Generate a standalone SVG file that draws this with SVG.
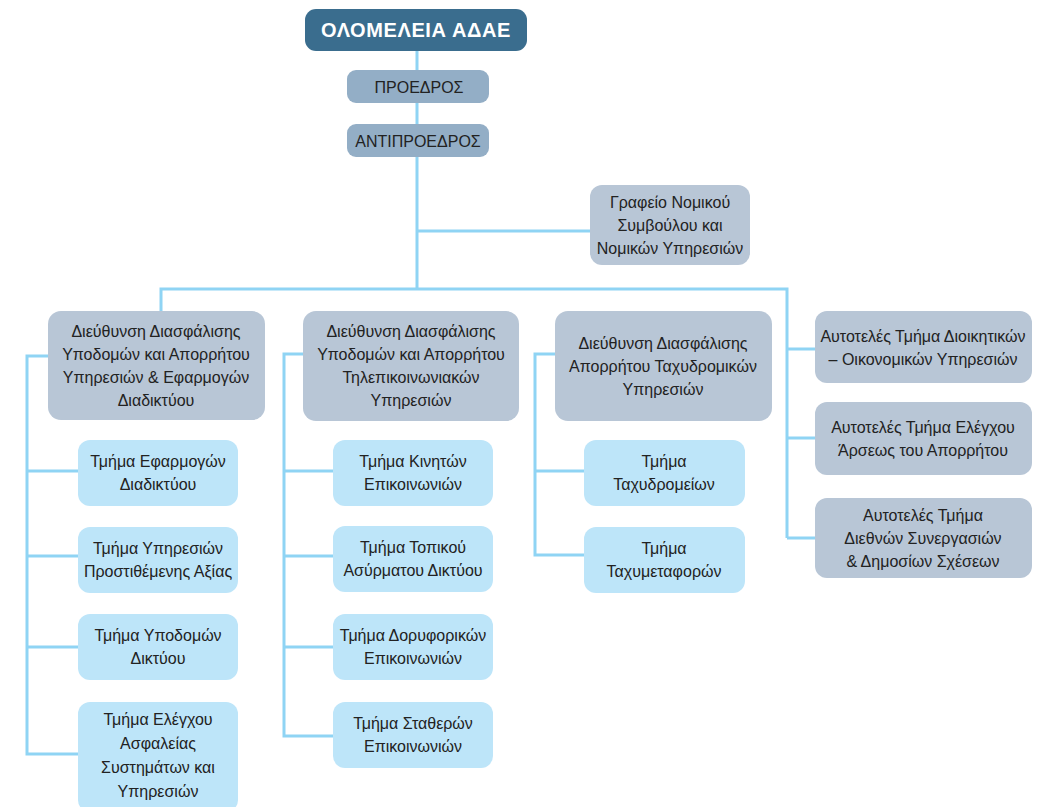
<svg xmlns="http://www.w3.org/2000/svg" width="1048" height="807" viewBox="0 0 1048 807">
<style>
.ln{fill:none;stroke:#8fd4f4;stroke-width:3}
.top{fill:#3a6d8e}
.lead{fill:#93aec6}
.dept{fill:#b8c6d6}
.sub{fill:#bde5f9}
text{font-family:"Liberation Sans",Arial,sans-serif;font-size:16px;fill:#222;text-anchor:middle;dominant-baseline:central}
.tt{font-size:20px;font-weight:bold;fill:#fff;letter-spacing:0.6px}
.lt{font-size:16px}
</style>
<rect width="1048" height="807" fill="#fff"/>
<g id="connectors">
<path class="ln" d="M417 51V289M417 231H590M161 311V289H787V538"/>
<path class="ln" d="M787 349H815M787 438H815M787 538H815"/>
<path class="ln" d="M48 356H27V754H78M27 471H78M27 556H78M27 647H78"/>
<path class="ln" d="M303 354H284V736H333M284 471H333M284 556H333M284 647H333"/>
<path class="ln" d="M555 354H535V555H584M535 471H584"/>
</g>
<g id="n-olomeleia"><rect class="top" x="305" y="9" width="222" height="42" rx="11"/><text class="tt" x="416" y="30">ΟΛΟΜΕΛΕΙΑ ΑΔΑΕ</text></g>
<g id="n-proedros"><rect class="lead" x="347" y="70" width="142" height="33" rx="9"/><text class="lt" x="419" y="87">ΠΡΟΕΔΡΟΣ</text></g>
<g id="n-antiproedros"><rect class="lead" x="347" y="124" width="142" height="33" rx="9"/><text class="lt" x="418" y="141">ΑΝΤΙΠΡΟΕΔΡΟΣ</text></g>
<g id="n-nomikou"><rect class="dept" x="590" y="185" width="160" height="80" rx="12"/><text x="670" y="202">Γραφείο Νομικού</text><text x="670" y="225">Συμβούλου και</text><text x="670" y="248">Νομικών Υπηρεσιών</text></g>
<g id="n-dir1"><rect class="dept" x="48" y="311" width="217" height="109" rx="13"/><text x="156" y="331">Διεύθυνση Διασφάλισης</text><text x="156" y="354">Υποδομών και Απορρήτου</text><text x="156" y="377">Υπηρεσιών &amp; Εφαρμογών</text><text x="156" y="400">Διαδικτύου</text></g>
<g id="n-dir2"><rect class="dept" x="303" y="311" width="216" height="110" rx="13"/><text x="411" y="331">Διεύθυνση Διασφάλισης</text><text x="411" y="354">Υποδομών και Απορρήτου</text><text x="411" y="377">Τηλεπικοινωνιακών</text><text x="411" y="400">Υπηρεσιών</text></g>
<g id="n-dir3"><rect class="dept" x="555" y="311" width="217" height="110" rx="13"/><text x="663" y="343">Διεύθυνση Διασφάλισης</text><text x="663" y="366">Απορρήτου Ταχυδρομικών</text><text x="663" y="389">Υπηρεσιών</text></g>
<g id="n-auto1"><rect class="dept" x="815" y="311" width="217" height="72" rx="12"/><text x="923" y="336">Αυτοτελές Τμήμα Διοικητικών</text><text x="923" y="359">– Οικονομικών Υπηρεσιών</text></g>
<g id="n-auto2"><rect class="dept" x="815" y="402" width="217" height="73" rx="12"/><text x="923" y="427">Αυτοτελές Τμήμα Ελέγχου</text><text x="923" y="450">Άρσεως του Απορρήτου</text></g>
<g id="n-auto3"><rect class="dept" x="815" y="498" width="217" height="80" rx="12"/><text x="923" y="515">Αυτοτελές Τμήμα</text><text x="923" y="538">Διεθνών Συνεργασιών</text><text x="923" y="561">&amp; Δημοσίων Σχέσεων</text></g>
<g id="n-c1a"><rect class="sub" x="78" y="440" width="160" height="66" rx="12"/><text x="158" y="461">Τμήμα Εφαρμογών</text><text x="158" y="484">Διαδικτύου</text></g>
<g id="n-c1b"><rect class="sub" x="78" y="527" width="160" height="66" rx="12"/><text x="158" y="548">Τμήμα Υπηρεσιών</text><text x="158" y="571">Προστιθέμενης Αξίας</text></g>
<g id="n-c1c"><rect class="sub" x="78" y="614" width="160" height="66" rx="12"/><text x="158" y="635">Τμήμα Υποδομών</text><text x="158" y="658">Δικτύου</text></g>
<g id="n-c1d"><rect class="sub" x="78" y="702" width="160" height="110" rx="12"/><text x="158" y="719">Τμήμα Ελέγχου</text><text x="158" y="743">Ασφαλείας</text><text x="158" y="767">Συστημάτων και</text><text x="158" y="791">Υπηρεσιών</text></g>
<g id="n-c2a"><rect class="sub" x="333" y="440" width="160" height="66" rx="12"/><text x="413" y="461">Τμήμα Κινητών</text><text x="413" y="484">Επικοινωνιών</text></g>
<g id="n-c2b"><rect class="sub" x="333" y="526" width="160" height="66" rx="12"/><text x="413" y="547">Τμήμα Τοπικού</text><text x="413" y="570">Ασύρματου Δικτύου</text></g>
<g id="n-c2c"><rect class="sub" x="333" y="614" width="160" height="66" rx="12"/><text x="413" y="635">Τμήμα Δορυφορικών</text><text x="413" y="658">Επικοινωνιών</text></g>
<g id="n-c2d"><rect class="sub" x="333" y="702" width="160" height="66" rx="12"/><text x="413" y="723">Τμήμα Σταθερών</text><text x="413" y="746">Επικοινωνιών</text></g>
<g id="n-c3a"><rect class="sub" x="584" y="440" width="161" height="66" rx="12"/><text x="664" y="461">Τμήμα</text><text x="664" y="484">Ταχυδρομείων</text></g>
<g id="n-c3b"><rect class="sub" x="584" y="527" width="161" height="66" rx="12"/><text x="664" y="548">Τμήμα</text><text x="664" y="571">Ταχυμεταφορών</text></g>
</svg>
